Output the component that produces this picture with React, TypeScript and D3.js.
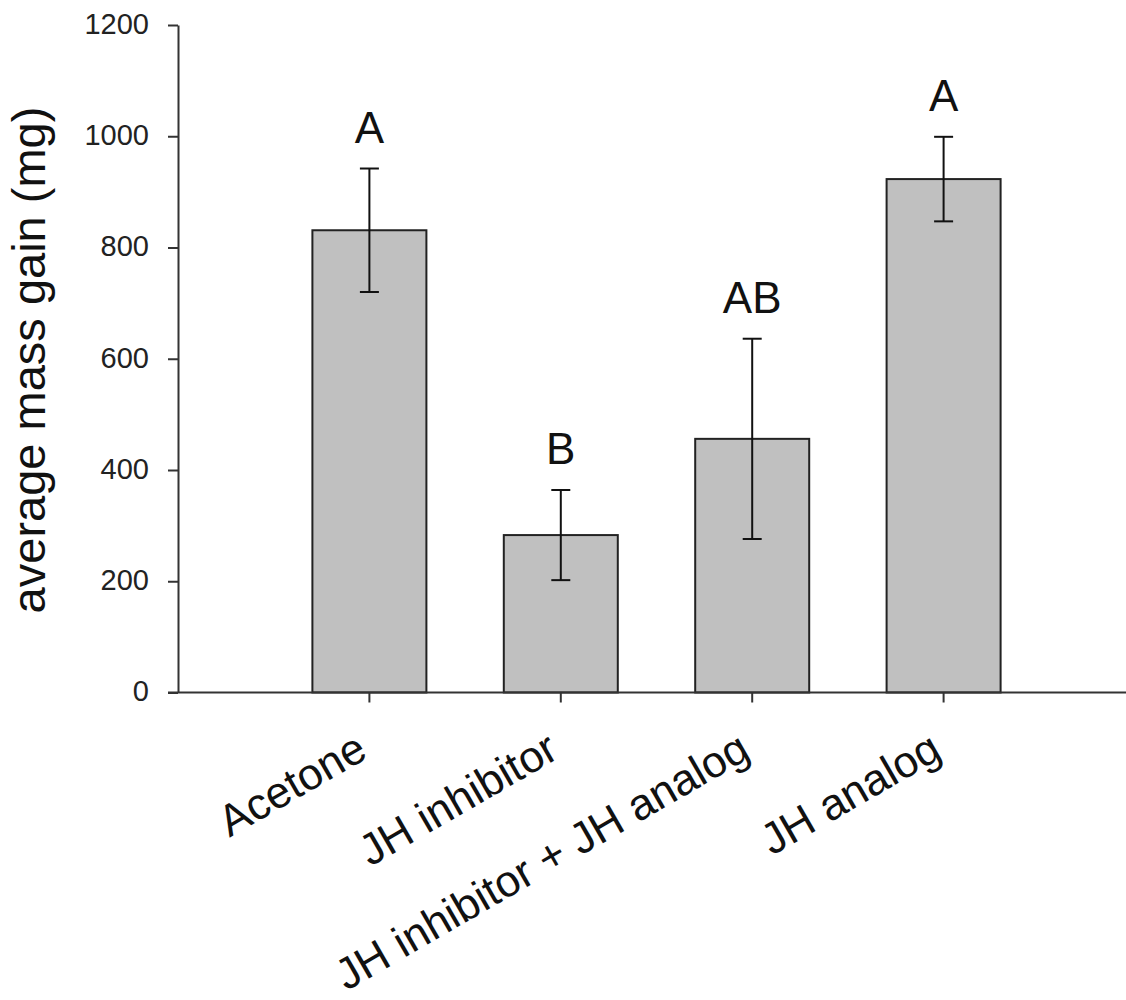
import { useEffect, useRef } from 'react';
import * as d3 from 'd3';

const categories = ['Acetone', 'JH inhibitor', 'JH inhibitor + JH analog', 'JH analog'];
const means = [831, 283, 456, 923];
const errors = [111, 81, 180, 76];
const groupLetters = ['A', 'B', 'AB', 'A'];
const yTicks = [0, 200, 400, 600, 800, 1000, 1200];

export default function App() {
  const svgRef = useRef<SVGSVGElement>(null);

  useEffect(() => {
    const width = 1126;
    const height = 1000;
    const font = '"Liberation Sans", Arial, sans-serif';

    const root = d3.select(svgRef.current);
    root.selectAll('*').remove();
    root.attr('width', width).attr('height', height);

    const svg = root.append('g');

    const y = d3.scaleLinear().domain([0, 1200]).range([692.5, 25]);
    // categories sit at positions 1..4 on a continuous x axis
    const x = d3.scaleLinear().domain([0, 4]).range([178, 178 + 4 * 191.4]);
    const barWidth = 114;

    // bars
    svg.selectAll('rect.bar')
      .data(categories)
      .enter()
      .append('rect')
      .attr('class', 'bar')
      .attr('x', (d, i) => x(i + 1) - barWidth / 2)
      .attr('y', (d, i) => y(means[i]))
      .attr('width', barWidth)
      .attr('height', (d, i) => y(0) - y(means[i]))
      .attr('fill', '#c0c0c0')
      .attr('stroke', '#222')
      .attr('stroke-width', 2);

    // error bars
    const err = svg.selectAll('g.err')
      .data(categories)
      .enter()
      .append('g')
      .attr('class', 'err')
      .attr('stroke', '#111')
      .attr('stroke-width', 2);

    err.append('line')
      .attr('x1', (d, i) => x(i + 1))
      .attr('x2', (d, i) => x(i + 1))
      .attr('y1', (d, i) => y(means[i] + errors[i]))
      .attr('y2', (d, i) => y(means[i] - errors[i]));

    err.append('line')
      .attr('x1', (d, i) => x(i + 1) - 9.5)
      .attr('x2', (d, i) => x(i + 1) + 9.5)
      .attr('y1', (d, i) => y(means[i] + errors[i]))
      .attr('y2', (d, i) => y(means[i] + errors[i]));

    err.append('line')
      .attr('x1', (d, i) => x(i + 1) - 9.5)
      .attr('x2', (d, i) => x(i + 1) + 9.5)
      .attr('y1', (d, i) => y(means[i] - errors[i]))
      .attr('y2', (d, i) => y(means[i] - errors[i]));

    // significance letters
    svg.selectAll('text.letter')
      .data(groupLetters)
      .enter()
      .append('text')
      .attr('class', 'letter')
      .attr('x', (d, i) => x(i + 1))
      .attr('y', (d, i) => y(means[i] + errors[i]) - 26)
      .attr('text-anchor', 'middle')
      .style('font-family', font)
      .style('font-size', '44px')
      .attr('fill', '#111')
      .text(d => d);

    // y axis
    const yAxis = svg.append('g')
      .attr('transform', 'translate(178,0)')
      .call(d3.axisLeft(y).tickValues(yTicks).tickFormat(d3.format('d')).tickSize(10).tickPadding(19).tickSizeOuter(0));
    yAxis.select('.domain').attr('stroke', '#333').attr('stroke-width', 2);
    yAxis.selectAll('.tick line').attr('stroke', '#333').attr('stroke-width', 2);
    yAxis.selectAll('.tick text')
      .attr('dy', '0.29em')
      .style('font-family', font)
      .style('font-size', '29px')
      .attr('fill', '#222');

    // x axis line
    svg.append('line')
      .attr('x1', 168)
      .attr('x2', width)
      .attr('y1', y(0))
      .attr('y2', y(0))
      .attr('stroke', '#333')
      .attr('stroke-width', 2);

    // x ticks
    svg.selectAll('line.xtick')
      .data(categories)
      .enter()
      .append('line')
      .attr('class', 'xtick')
      .attr('x1', (d, i) => x(i + 1))
      .attr('x2', (d, i) => x(i + 1))
      .attr('y1', y(0))
      .attr('y2', y(0) + 10)
      .attr('stroke', '#333')
      .attr('stroke-width', 2);

    // category labels, rotated
    svg.selectAll('text.cat')
      .data(categories)
      .enter()
      .append('text')
      .attr('class', 'cat')
      .attr('transform', (d, i) => `translate(${x(i + 1)},757) rotate(-30)`)
      .attr('text-anchor', 'end')
      .style('font-family', font)
      .style('font-size', '44px')
      .attr('fill', '#111')
      .text(d => d);

    // y axis title
    svg.append('text')
      .attr('transform', 'translate(45,360) rotate(-90)')
      .attr('text-anchor', 'middle')
      .style('font-family', font)
      .style('font-size', '47px')
      .attr('fill', '#111')
      .text('average mass gain (mg)');
  }, []);

  return (
    <svg
      ref={svgRef}
      style={{ position: 'absolute', left: 0, top: 0, display: 'block', background: '#fff' }}
    ></svg>
  );
}
